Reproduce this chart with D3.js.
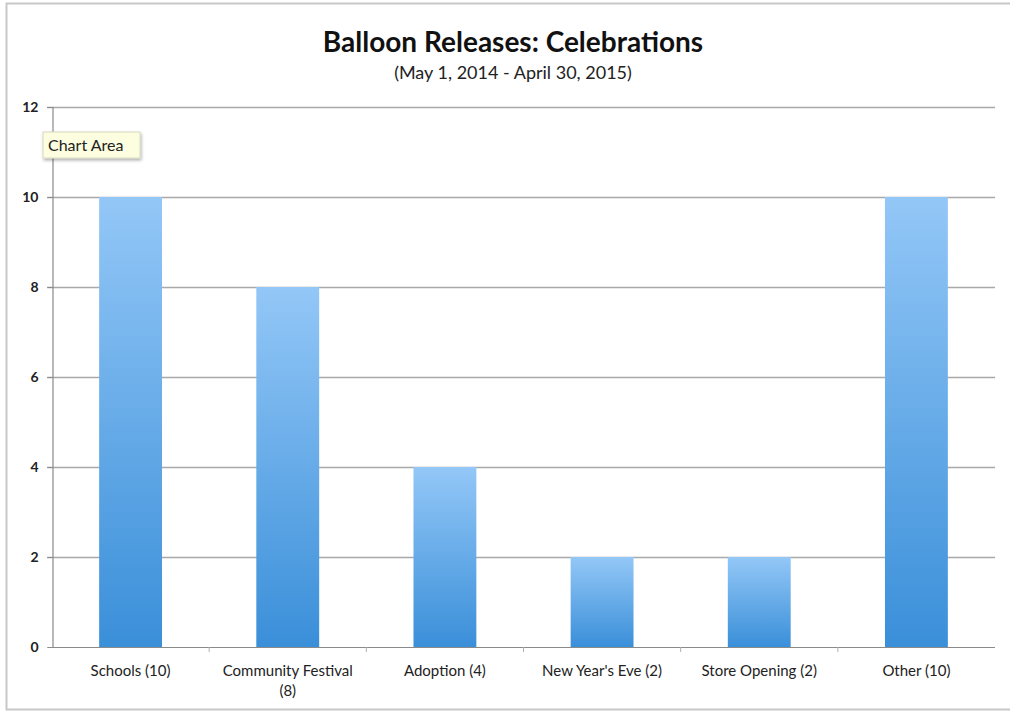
<!DOCTYPE html>
<html>
<head>
<meta charset="utf-8">
<script src="https://cdn.jsdelivr.net/npm/d3@7"></script>
<style>
  html, body { margin: 0; padding: 0; background: #fff; }
  svg { display: block; font-family: Lato, "Open Sans", sans-serif; }
</style>
</head>
<body>
<svg id="chart" width="1010" height="712"></svg>
<script>
// Celebration balloon releases, May 2014 - April 2015
const categories = ["Schools (10)", "Community Festival (8)", "Adoption (4)", "New Year's Eve (2)", "Store Opening (2)", "Other (10)"];
const counts = [10, 8, 4, 2, 2, 10];
const yTicks = [0, 2, 4, 6, 8, 10, 12];

const svg = d3.select("#chart");
const W = 1010, H = 712;
const plot = { left: 52, right: 995, top: 107, bottom: 647 };

// outer frame
svg.append("path")
  .attr("d", `M${W},3.5 H6.5 V709.5 H${W}`)
  .attr("fill", "none").attr("stroke", "#c8c8c8").attr("stroke-width", 2);

// bar gradient: light at the top, deeper blue at the base
const defs = svg.append("defs");
const grad = defs.append("linearGradient").attr("id", "barGrad")
  .attr("x1", 0).attr("y1", 0).attr("x2", 0).attr("y2", 1)
  .attr("gradientUnits", "objectBoundingBox");
grad.append("stop").attr("offset", "0%").attr("stop-color", "#93c7f7");
grad.append("stop").attr("offset", "100%").attr("stop-color", "#3a8fd9");

const filt = defs.append("filter").attr("id", "tipShadow").attr("x", "-20%").attr("y", "-30%").attr("width", "150%").attr("height", "180%");
filt.append("feDropShadow").attr("dx", 1).attr("dy", 2).attr("stdDeviation", 1.5).attr("flood-color", "#000").attr("flood-opacity", 0.3);

const x = d3.scaleBand().domain(categories).range([plot.left, plot.right]).paddingInner(0.6).paddingOuter(0.3);
const y = d3.scaleLinear().domain([0, 12]).range([plot.bottom, plot.top]);

// gridlines
svg.append("g").selectAll("line").data(yTicks.filter(d => d > 0)).join("line")
  .attr("x1", plot.left - 5).attr("x2", plot.right)
  .attr("y1", d => y(d) + 0.5).attr("y2", d => y(d) + 0.5)
  .attr("stroke", "#a9a9a9").attr("stroke-width", 1.5);

// bars
svg.append("g").selectAll("rect").data(counts).join("rect")
  .attr("x", (d, i) => x(categories[i]))
  .attr("y", d => y(d))
  .attr("width", x.bandwidth())
  .attr("height", d => y(0) - y(d))
  .attr("fill", "url(#barGrad)");

// y axis
const yAxis = d3.axisLeft(y).tickValues(yTicks).tickSize(5).tickPadding(8);
const gy = svg.append("g").attr("transform", `translate(${plot.left + 0.5},0)`).call(yAxis);
gy.select(".domain").attr("stroke", "#8a8a8a").attr("stroke-width", 1.2);
gy.selectAll(".tick line").attr("stroke", "#8a8a8a");
gy.selectAll(".tick text").attr("font-size", 14).attr("font-weight", 700).attr("fill", "#222")
  .attr("font-family", "Lato, sans-serif").attr("x", -14);

// x axis with ticks between categories
const step = x.step();
const boundaries = d3.range(categories.length + 1).map(i => x(categories[0]) - x.paddingInner() * x.step() / 2 + i * step);
const gx = svg.append("g");
gx.append("line")
  .attr("x1", plot.left).attr("x2", plot.right)
  .attr("y1", plot.bottom + 0.5).attr("y2", plot.bottom + 0.5)
  .attr("stroke", "#8a8a8a").attr("stroke-width", 1.2);
gx.selectAll("line.tk").data(boundaries.slice(1, -1)).join("line").attr("class", "tk")
  .attr("x1", d => d).attr("x2", d => d)
  .attr("y1", plot.bottom).attr("y2", plot.bottom + 5)
  .attr("stroke", "#b0b0b0");

// category labels, wrapped where they would overflow the slot
const labelG = svg.append("g").attr("font-size", 15).attr("fill", "#222").attr("text-anchor", "middle");
categories.forEach(c => {
  const cx = x(c) + x.bandwidth() / 2;
  const lines = c === "Community Festival (8)" ? ["Community Festival", "(8)"] : [c];
  const t = labelG.append("text").attr("x", cx).attr("y", plot.bottom + 29);
  lines.forEach((ln, k) => t.append("tspan").attr("x", cx).attr("dy", k === 0 ? 0 : 20).text(ln));
});

// titles
svg.append("text").attr("x", 513).attr("y", 52).attr("text-anchor", "middle")
  .attr("font-size", 28).attr("font-weight", 700).attr("fill", "#111")
  .text("Balloon Releases: Celebrations");
svg.append("text").attr("x", 513).attr("y", 79).attr("text-anchor", "middle")
  .attr("font-size", 18).attr("fill", "#222")
  .text("(May 1, 2014 - April 30, 2015)");

// hover tip box
const tip = svg.append("g").attr("transform", "translate(43,132)");
tip.append("rect").attr("width", 97).attr("height", 26)
  .attr("fill", "#fdfde0").attr("stroke", "#d8d8c0").attr("filter", "url(#tipShadow)");
tip.append("text").attr("x", 5).attr("y", 19).attr("font-size", 16).attr("fill", "#222").text("Chart Area");
</script>
</body>
</html>
